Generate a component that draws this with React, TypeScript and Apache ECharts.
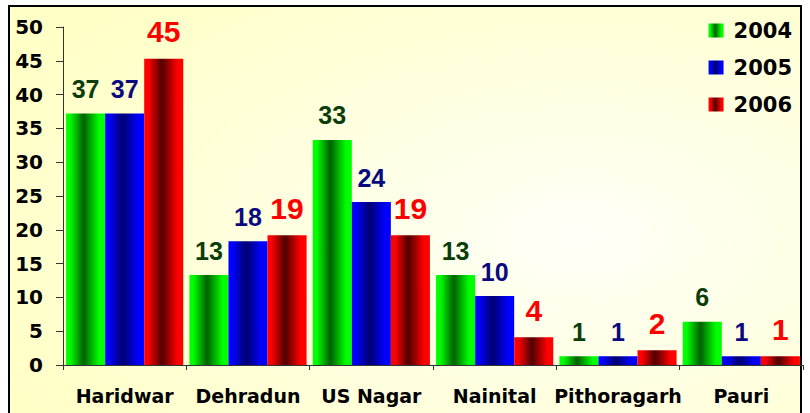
import React, { useEffect, useRef } from "react";
import * as echarts from "echarts";

const categories = ["Haridwar", "Dehradun", "US Nagar", "Nainital", "Pithoragarh", "Pauri"];
const seriesNames = ["2004", "2005", "2006"];
const values2004 = [37.2, 13.3, 33.3, 13.3, 1.3, 6.4];
const values2005 = [37.2, 18.3, 24.1, 10.2, 1.3, 1.3];
const values2006 = [45.3, 19.2, 19.2, 4.1, 2.2, 1.3];
const yTicks = { min: 0, max: 50, interval: 5 };

const grad = (edge: string, mid: string) => ({
  type: "linear",
  x: 0,
  y: 0,
  x2: 1,
  y2: 0,
  colorStops: [
    { offset: 0, color: edge },
    { offset: 0.1, color: edge },
    { offset: 0.45, color: mid },
    { offset: 0.85, color: edge },
    { offset: 1, color: edge },
  ],
});

const barColors = [grad("#00ff00", "#006000"), grad("#0000ff", "#000070"), grad("#ff0000", "#500000")];
const labelColors = ["#0b3d0b", "#0a0a80", "#ff0000"];
const labelSizes = [25, 25, 30];
const ARIAL = "'Liberation Sans', Arial, sans-serif";
const WIDE = "'DejaVu Sans', Verdana, sans-serif";

export default function App() {
  const ref = useRef<HTMLDivElement>(null);
  useEffect(() => {
    if (!ref.current) return;
    const chart = echarts.init(ref.current, null, { renderer: "svg" });
    const data = [values2004, values2005, values2006];
    chart.setOption({
      animation: false,
      graphic: [
        {
          type: "rect",
          z: -10,
          shape: { x: 9, y: 6, width: 792, height: 420 },
          style: {
            fill: {
              type: "radial",
              x: 0.72,
              y: 0.55,
              r: 0.8,
              colorStops: [
                { offset: 0, color: "#fffff8" },
                { offset: 1, color: "#ffffc6" },
              ],
            },
            stroke: "#000",
            lineWidth: 2,
          },
        },
      ],
      legend: {
        orient: "vertical",
        right: 13,
        top: 15,
        itemWidth: 15,
        itemHeight: 14,
        itemGap: 16,
        icon: "rect",
        data: seriesNames,
        textStyle: {
          fontFamily: WIDE,
          fontWeight: "bold",
          fontSize: 21,
          color: "#000",
          padding: [0, 0, 0, 5],
        },
      },
      grid: { left: 63, right: 7, top: 27, bottom: 48, containLabel: false },
      xAxis: {
        type: "category",
        data: categories,
        axisLine: { lineStyle: { color: "#333", width: 1 } },
        axisTick: { show: true, length: 5, lineStyle: { color: "#333" } },
        axisLabel: {
          margin: 21,
          fontFamily: WIDE,
          fontWeight: "bold",
          fontSize: 19,
          color: "#000",
          interval: 0,
        },
        splitLine: { show: false },
      },
      yAxis: {
        type: "value",
        min: yTicks.min,
        max: yTicks.max,
        interval: yTicks.interval,
        axisLine: { show: true, lineStyle: { color: "#333", width: 1 } },
        axisTick: { show: true, length: 7, lineStyle: { color: "#333" } },
        axisLabel: {
          margin: 20,
          fontFamily: WIDE,
          fontWeight: "bold",
          fontSize: 20,
          color: "#000",
        },
        splitLine: { show: false },
      },
      series: seriesNames.map((name, i) => ({
        name,
        type: "bar",
        data: data[i],
        barGap: "0%",
        barCategoryGap: "5%",
        itemStyle: { color: barColors[i] },
        label: {
          show: true,
          position: "top",
          distance: 12,
          fontFamily: ARIAL,
          fontWeight: "bold",
          fontSize: labelSizes[i],
          color: labelColors[i],
          formatter: (p: any) => String(Math.round(p.value)),
        },
      })),
    });
    return () => chart.dispose();
  }, []);
  return (
    <div
      ref={ref}
      style={{ position: "fixed", left: 0, top: 0, width: 810, height: 413, background: "#fff" }}
    />
  );
}
